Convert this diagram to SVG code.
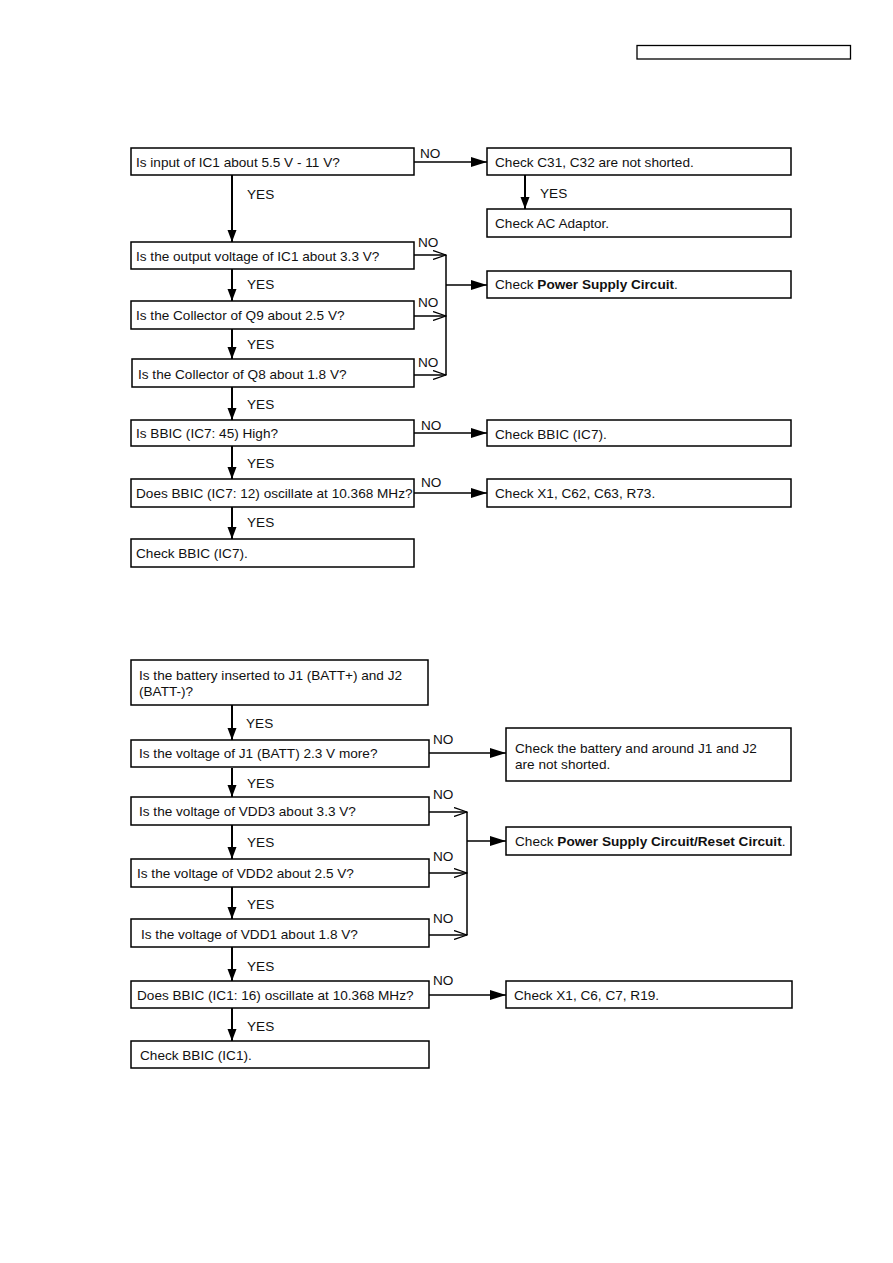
<svg xmlns="http://www.w3.org/2000/svg" width="893" height="1263" viewBox="0 0 893 1263">
<style>
rect.b{fill:#fff;stroke:#000;stroke-width:1.5}
text{font-family:"Liberation Sans",Arial,sans-serif;font-size:13.6px;fill:#111}
.bold{font-weight:bold}
.c line,.c path{stroke:#000;stroke-width:1.5;fill:none}
.c .v{stroke-width:2}
</style>
<defs>
<marker id="ah" markerUnits="userSpaceOnUse" markerWidth="16" markerHeight="10" refX="16" refY="5" orient="auto"><path d="M0,0 L16,5 L0,10 z" fill="#000"/></marker>
<marker id="av" markerUnits="userSpaceOnUse" markerWidth="12" markerHeight="10" refX="12" refY="5" orient="auto"><path d="M0,0.5 L12,5 L0,9.5 z" fill="#000"/></marker>
<marker id="ao" markerUnits="userSpaceOnUse" markerWidth="14" markerHeight="10" refX="13" refY="5" orient="auto"><path d="M0,0.5 L13,5 L0,9.5" fill="none" stroke="#000" stroke-width="1.3"/></marker>
</defs>
<rect x="637" y="45.5" width="213.5" height="13.5" fill="#fff" stroke="#000" stroke-width="1.3"/>

<g class="c" id="connectors">
<line x1="414" y1="162" x2="487" y2="162" marker-end="url(#ah)"/>
<line class="v" x1="525" y1="175" x2="525" y2="209" marker-end="url(#av)"/>
<line class="v" x1="232" y1="175" x2="232" y2="242" marker-end="url(#av)"/>
<line class="v" x1="232" y1="269" x2="232" y2="301" marker-end="url(#av)"/>
<line class="v" x1="232" y1="329" x2="232" y2="359" marker-end="url(#av)"/>
<line class="v" x1="232" y1="387" x2="232" y2="420" marker-end="url(#av)"/>
<line class="v" x1="232" y1="446" x2="232" y2="479" marker-end="url(#av)"/>
<line class="v" x1="232" y1="507" x2="232" y2="539" marker-end="url(#av)"/>
<line x1="414" y1="255" x2="446" y2="255" marker-end="url(#ao)"/>
<line x1="414" y1="316" x2="446" y2="316" marker-end="url(#ao)"/>
<line x1="414" y1="375" x2="446" y2="375" marker-end="url(#ao)"/>
<line x1="446" y1="255" x2="446" y2="375"/>
<line x1="446" y1="285" x2="487" y2="285" marker-end="url(#ah)"/>
<line x1="414" y1="433" x2="487" y2="433" marker-end="url(#ah)"/>
<line x1="414" y1="493" x2="487" y2="493" marker-end="url(#ah)"/>

<line class="v" x1="232" y1="705" x2="232" y2="740" marker-end="url(#av)"/>
<line class="v" x1="232" y1="768" x2="232" y2="797" marker-end="url(#av)"/>
<line class="v" x1="232" y1="825" x2="232" y2="859" marker-end="url(#av)"/>
<line class="v" x1="232" y1="887" x2="232" y2="919" marker-end="url(#av)"/>
<line class="v" x1="232" y1="947" x2="232" y2="981" marker-end="url(#av)"/>
<line class="v" x1="232" y1="1008" x2="232" y2="1041" marker-end="url(#av)"/>
<line x1="429" y1="753" x2="506" y2="753" marker-end="url(#ah)"/>
<line x1="429" y1="812" x2="467" y2="812" marker-end="url(#ao)"/>
<line x1="429" y1="873" x2="467" y2="873" marker-end="url(#ao)"/>
<line x1="429" y1="935" x2="467" y2="935" marker-end="url(#ao)"/>
<line x1="467" y1="812" x2="467" y2="935"/>
<line x1="467" y1="841" x2="506" y2="841" marker-end="url(#ah)"/>
<line x1="429" y1="995" x2="506" y2="995" marker-end="url(#ah)"/>
</g>

<g id="labels">
<text x="420" y="158">NO</text>
<text x="540" y="198">YES</text>
<text x="247" y="199">YES</text>
<text x="418" y="247">NO</text>
<text x="247" y="289">YES</text>
<text x="418" y="307">NO</text>
<text x="247" y="349">YES</text>
<text x="418" y="367">NO</text>
<text x="247" y="409">YES</text>
<text x="421" y="430">NO</text>
<text x="247" y="468">YES</text>
<text x="421" y="487">NO</text>
<text x="247" y="527">YES</text>

<text x="246" y="728">YES</text>
<text x="433" y="744">NO</text>
<text x="247" y="788">YES</text>
<text x="433" y="799">NO</text>
<text x="247" y="847">YES</text>
<text x="433" y="861">NO</text>
<text x="247" y="909">YES</text>
<text x="433" y="923">NO</text>
<text x="247" y="971">YES</text>
<text x="433" y="985">NO</text>
<text x="247" y="1031">YES</text>
</g>

<g id="q1"><rect class="b" x="131" y="148" width="283" height="27"/><text x="136" y="167">Is input of IC1 about 5.5 V - 11 V?</text></g>
<g id="r1"><rect class="b" x="487" y="148" width="304" height="27"/><text x="495" y="167">Check C31, C32 are not shorted.</text></g>
<g id="r2"><rect class="b" x="487" y="209" width="304" height="28"/><text x="495" y="228">Check AC Adaptor.</text></g>
<g id="q2"><rect class="b" x="131" y="242" width="283" height="27"/><text x="136" y="261">Is the output voltage of IC1 about 3.3 V?</text></g>
<g id="r3"><rect class="b" x="487" y="271" width="304" height="27"/><text x="495" y="289">Check <tspan class="bold">Power Supply Circuit</tspan>.</text></g>
<g id="q3"><rect class="b" x="131" y="301" width="283" height="28"/><text x="136" y="320">Is the Collector of Q9 about 2.5 V?</text></g>
<g id="q4"><rect class="b" x="132" y="359" width="282" height="28"/><text x="138" y="379">Is the Collector of Q8 about 1.8 V?</text></g>
<g id="q5"><rect class="b" x="131" y="420" width="283" height="26"/><text x="136" y="438">Is BBIC (IC7: 45) High?</text></g>
<g id="r4"><rect class="b" x="487" y="420" width="304" height="26"/><text x="495" y="439">Check BBIC (IC7).</text></g>
<g id="q6"><rect class="b" x="131" y="479" width="283" height="28"/><text x="136" y="498">Does BBIC (IC7: 12) oscillate at 10.368 MHz?</text></g>
<g id="r5"><rect class="b" x="487" y="479" width="304" height="28"/><text x="495" y="498">Check X1, C62, C63, R73.</text></g>
<g id="e1"><rect class="b" x="131" y="539" width="283" height="28"/><text x="136" y="558">Check BBIC (IC7).</text></g>

<g id="qa"><rect class="b" x="131" y="660" width="297" height="45"/><text x="139" y="680">Is the battery inserted to J1 (BATT+) and J2</text><text x="139" y="696">(BATT-)?</text></g>
<g id="qb"><rect class="b" x="131" y="740" width="298" height="27"/><text x="139" y="758">Is the voltage of J1 (BATT) 2.3 V more?</text></g>
<g id="ra"><rect class="b" x="506" y="728" width="285" height="53"/><text x="515" y="753">Check the battery and around J1 and J2</text><text x="515" y="769">are not shorted.</text></g>
<g id="qc"><rect class="b" x="131" y="797" width="298" height="28"/><text x="139" y="816">Is the voltage of VDD3 about 3.3 V?</text></g>
<g id="rb"><rect class="b" x="506" y="827" width="285" height="28"/><text x="515" y="846">Check <tspan class="bold">Power Supply Circuit/Reset Circuit</tspan>.</text></g>
<g id="qd"><rect class="b" x="131" y="859" width="298" height="28"/><text x="137" y="878">Is the voltage of VDD2 about 2.5 V?</text></g>
<g id="qe"><rect class="b" x="131" y="919" width="298" height="28"/><text x="141" y="939">Is the voltage of VDD1 about 1.8 V?</text></g>
<g id="qf"><rect class="b" x="131" y="981" width="298" height="27"/><text x="137" y="1000">Does BBIC (IC1: 16) oscillate at 10.368 MHz?</text></g>
<g id="rc"><rect class="b" x="506" y="981" width="286" height="27"/><text x="514" y="1000">Check X1, C6, C7, R19.</text></g>
<g id="e2"><rect class="b" x="131" y="1041" width="298" height="27"/><text x="140" y="1060">Check BBIC (IC1).</text></g>
</svg>
